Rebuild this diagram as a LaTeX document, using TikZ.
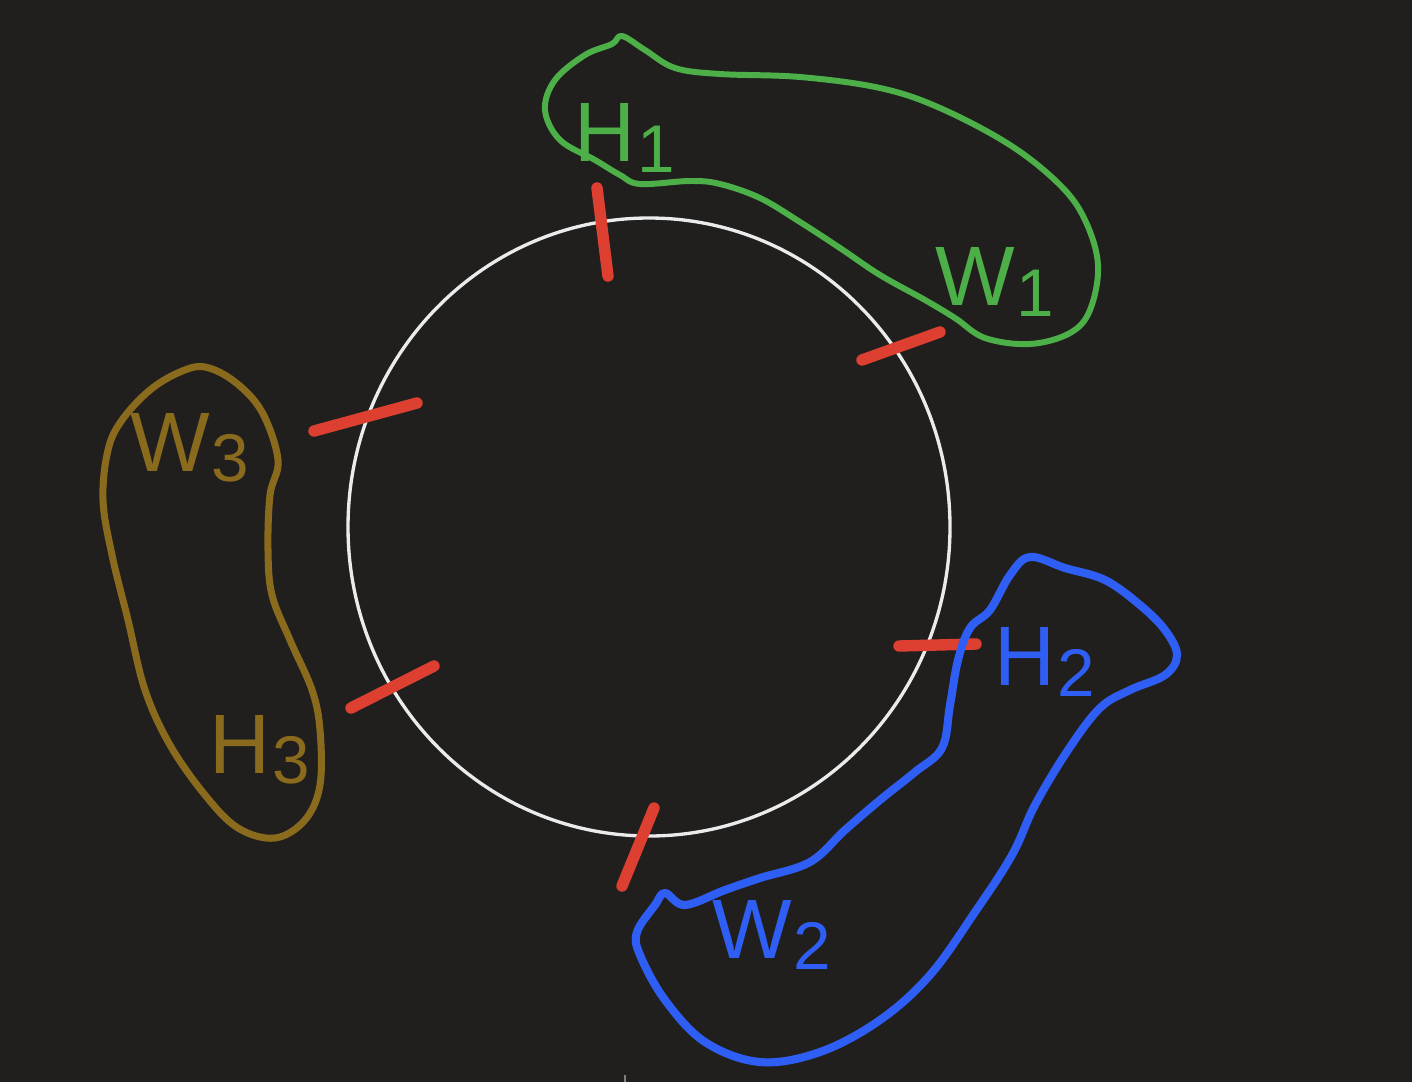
\documentclass[tikz,border=0pt]{standalone}
\usepackage{fontspec}
\setmainfont{Liberation Sans}
\definecolor{bg}{HTML}{201F1E}
\definecolor{gr}{HTML}{4CAF48}
\definecolor{bl}{HTML}{2F5EF5}
\definecolor{br}{HTML}{8A6A1C}
\definecolor{rd}{HTML}{DD4030}
\newcommand{\lbl}[2]{#1\kern1pt\raisebox{-0.12em}{\scalebox{0.8}{#2}}}
\begin{document}
\begin{tikzpicture}[x=0.02cm,y=-0.02cm,
  blob/.style={line width=#1, line join=round, line cap=round},
  tick/.style={draw=rd, line width=6.5pt, line cap=round},
  lab/.style={font=\fontsize{48}{48}\selectfont, inner sep=0pt}]
\fill[bg] (0,0) rectangle (1412,1082);
\useasboundingbox (0,0) rectangle (1412,1082);
% ring
\coordinate (ringc) at (649,527);
\draw[white!92!black, line width=1.9pt] (ringc) ellipse [x radius=301, y radius=309];
% red ticks
\draw[tick] (597,188) -- (608,276);
\draw[tick] (862,360) -- (940,332);
\draw[tick] (314,431) -- (417,403);
\draw[tick] (351,708) -- (434,666);
\draw[tick] (899,646) -- (976,644);
\draw[tick] (622,886) -- (654,808);
% green group
\draw[gr, blob=3.4pt] plot[smooth cycle, tension=0.6] coordinates {(622,36) (645,50) (675,68) (720,74) (800,77) (880,88) (940,108) (1010,145) (1060,185) (1085,220) (1098,265) (1090,310) (1070,333) (1030,344) (985,338) (955,318) (925,300) (880,275) (840,248) (800,222) (760,198) (720,184) (690,181) (640,184) (620,175) (595,160) (560,140) (545,110) (555,80) (585,55) (612,44)};
\node[lab, text=gr] (h1) at (625,138) {\lbl{H}{1}};
\node[lab, text=gr] (w1) at (995,282) {\lbl{W}{1}};
% blue group
\draw[bl, blob=4.6pt] plot[smooth cycle, tension=0.6] coordinates {(1030,557) (1065,568) (1105,580) (1140,605) (1165,630) (1177,655) (1165,675) (1130,690) (1100,708) (1068,750) (1035,805) (1012,855) (975,912) (930,975) (880,1020) (820,1052) (760,1062) (705,1042) (665,1000) (640,955) (637,932) (655,905) (665,893) (685,905) (725,890) (760,878) (810,862) (845,830) (880,800) (915,772) (942,748) (950,705) (958,660) (970,628) (990,610) (1010,575)};
\node[lab, text=bl] (h2) at (1045,662) {\lbl{H}{2}};
\node[lab, text=bl] (w2) at (772,935) {\lbl{W}{2}};
% brown group
\draw[br, blob=4pt] plot[smooth cycle, tension=0.6] coordinates {(205,367) (235,382) (262,412) (278,460) (270,495) (268,550) (272,595) (290,640) (312,690) (320,730) (320,785) (305,820) (275,838) (238,828) (205,795) (170,745) (145,690) (128,620) (112,555) (103,500) (108,450) (122,420) (150,390) (180,372)};
\node[lab, text=br] (w3) at (190,448) {\lbl{W}{3}};
\node[lab, text=br] (h3) at (260,750) {\lbl{H}{3}};
% small mark at bottom
\draw[gray, line width=1.1pt] (625,1075) -- (625,1082);
\end{tikzpicture}
\end{document}
